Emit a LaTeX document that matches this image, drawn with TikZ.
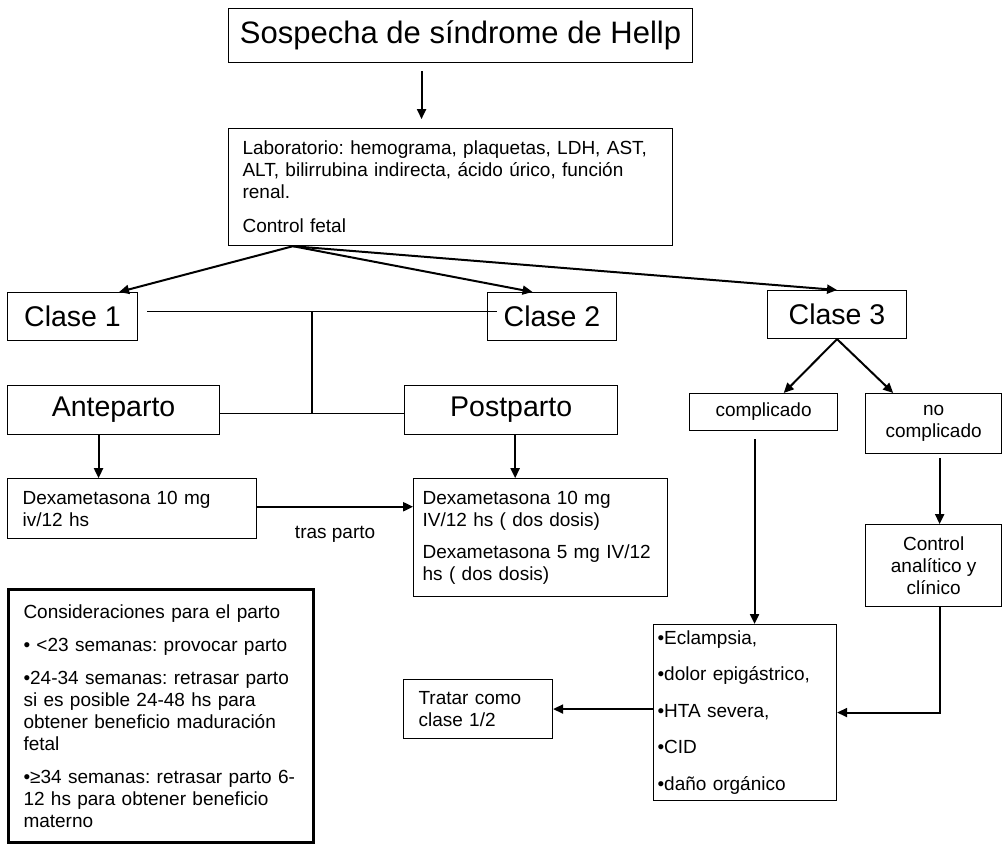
\documentclass[tikz,border=0pt]{standalone}
\usepackage{fontspec}
\setmainfont{Liberation Sans}
\usetikzlibrary{positioning,arrows.meta,calc}
\frenchspacing

\tikzset{
  box/.style={draw, line width=1.1pt, inner sep=0pt, align=center,
    font=\fontsize{19}{22}\selectfont},
  big/.style={box, font=\fontsize{28.5}{32}\selectfont},
  lbox/.style={box, align=left, inner xsep=#1},
  arrow/.style={line width=2pt, -{Triangle[length=10pt,width=9pt]}},
  link/.style={line width=1.1pt}
}

\begin{document}
\begin{tikzpicture}[x=1pt, y=-1pt]
        \useasboundingbox (0,0) rectangle (1002,848);
          \node [box, anchor=north west, minimum width=464pt, minimum height=54pt,
            font=\fontsize{31}{34}\selectfont] (title) at (228,8) {Sospecha de síndrome de Hellp};
          \node [lbox=14pt, text width=416pt, minimum height=117pt,
            below=65pt of title.south west, anchor=north west] (lab)
            {Laboratorio: hemograma, plaquetas, LDH, AST,\\ ALT, bilirrubina indirecta, ácido úrico, función\\ renal.\\[12pt] Control fetal};
          \node [big, anchor=north west, minimum width=130pt, minimum height=48pt] (c1) at (7,292) {Clase 1};
          \node [big, anchor=north west, minimum width=129pt, minimum height=48pt] (c2) at (487,292) {Clase 2};
          \node [big, anchor=north west, minimum width=139pt, minimum height=48pt] (c3) at (767,290) {Clase 3};
          \node [big, minimum width=212pt, minimum height=49pt,
            below=44pt of c1.south west, anchor=north west] (ante) {Anteparto};
          \node [big, minimum width=213pt, minimum height=49pt,
            right=184pt of ante.north east, anchor=north west] (post) {Postparto};
          \node [lbox=15pt, text width=219pt, minimum height=60pt,
            below=43pt of ante.south west, anchor=north west] (dx1) {Dexametasona 10 mg\\ iv/12 hs};
          \node [lbox=9pt, text width=236pt, minimum height=118pt,
            right=156pt of dx1.north east, anchor=north west] (dx2)
            {Dexametasona 10 mg\\ IV/12 hs ( dos dosis)\\[10pt] Dexametasona 5 mg IV/12\\ hs ( dos dosis)};
          \node [lbox=15pt, text width=275pt, minimum height=253pt, line width=3pt,
            below=49pt of dx1.south west, anchor=north west] (cons)
            {Consideraciones para el parto\\[11pt] • <23 semanas: provocar parto\\[11pt] •24-34 semanas: retrasar parto\\ si es posible 24-48 hs para\\ obtener beneficio maduración\\ fetal\\[11pt] •≥34 semanas: retrasar parto 6-\\ 12 hs para obtener beneficio\\ materno};
          \node [box, anchor=north west, minimum width=148pt, minimum height=37pt] (comp) at (689,393) {complicado};
          \node [box, minimum width=136pt, minimum height=60pt,
            right=27pt of comp.north east, anchor=north west] (ncomp) {no\\ complicado};
          \node [box, minimum width=136pt, minimum height=82pt,
            below=70pt of ncomp.south west, anchor=north west] (ctrl) {Control\\ analítico y\\ clínico};
          \node [lbox=4pt, text width=175pt, minimum height=176pt, anchor=north west] (ecl) at (653,624)
            {•Eclampsia,\\[14.5pt] •dolor epigástrico,\\[14.5pt] •HTA severa,\\[14.5pt] •CID\\[14.5pt] •daño orgánico};
          \node [lbox=15pt, text width=119pt, minimum height=59pt, anchor=north west] (trat) at (403,679)
            {Tratar como\\ clase 1/2};

          \coordinate (fk) at ($(lab.south west)+(65,0)$);
          \coordinate (hub) at (312,311);
          \draw[arrow, shorten <=8pt, shorten >=9pt] ($(title.south)+(-39,0)$) -- ($(lab.north)+(-29,0)$);
          \draw[arrow] (fk) -- ($(c1.north)!0.71!(c1.north east)$);
          \draw[arrow] (fk) -- ($(c2.north)!0.3!(c2.north west)$);
          \draw[arrow] (fk) -- (c3.north);
          \draw[link] ($(c1.east)+(9,-5)$) -- ($(c2.west)+(10,-5)$);
          \draw[link] ($(ante.east)+(0,3)$) coordinate (ae) -- (ae -| post.west);
          \draw[link] (hub) -- (hub |- ae);
          \draw[arrow] ($(ante.south)+(-15,0)$) coordinate (a1) -- (a1 |- dx1.north);
          \draw[arrow] ($(post.south)+(4,0)$) coordinate (p1) -- (p1 |- dx2.north);
          \draw[arrow] ($(dx1.east)+(0,-2)$) coordinate (d1) -- (d1 -| dx2.west)
            node[midway, below=15pt, font=\fontsize{19}{22}\selectfont] {tras parto};
          \draw[arrow] (c3.south) -- ($(comp.north)!0.27!(comp.north east)$);
          \draw[arrow] (c3.south) -- ($(ncomp.north)!0.59!(ncomp.north west)$);
          \draw[arrow] ($(comp.south)+(-9,8)$) coordinate (cd) -- (cd |- ecl.north);
          \draw[arrow] ($(ncomp.south)+(6,4)$) coordinate (nd) -- (nd |- ctrl.north);
          \draw[arrow] ($(ctrl.south)+(6,0)$) |- (ecl.east);
          \draw[arrow] (ecl.west |- trat.east) -- (trat.east);
      \end{tikzpicture}
\end{document}
